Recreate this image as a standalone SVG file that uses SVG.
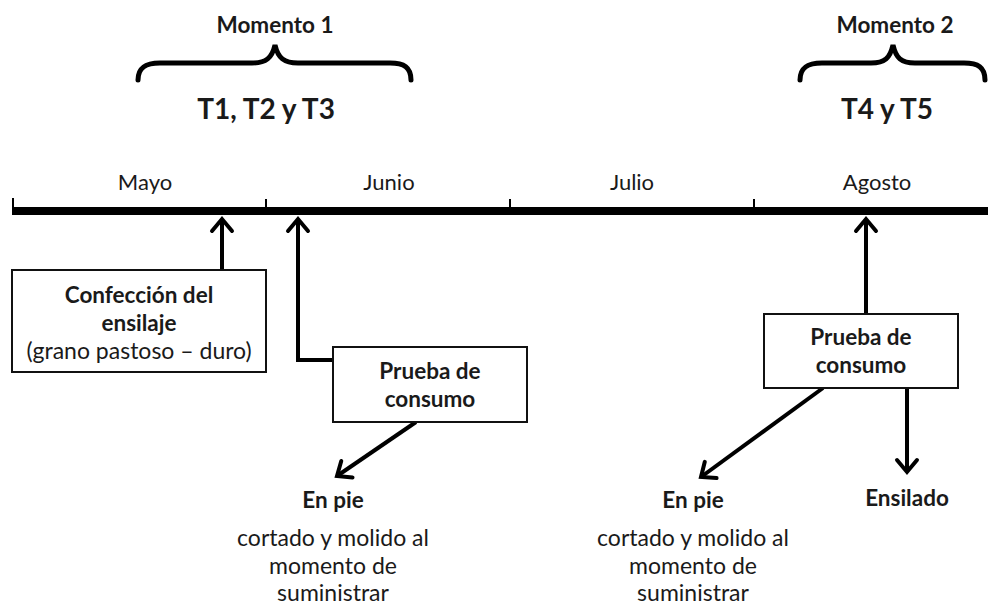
<svg xmlns="http://www.w3.org/2000/svg" width="988" height="605" viewBox="0 0 988 605">
<style>
text{font-family:Lato,"Open Sans",sans-serif;fill:#1a1a1a;text-anchor:middle}
.r{font-size:23px}
.m{font-size:22px}
.bl{font-size:22.5px;font-weight:bold}
.t{font-size:28px;font-weight:bold}
.box{fill:#fff;stroke:#111;stroke-width:2}
.c{fill:none;stroke:#000;stroke-width:4}
.brace{fill:none;stroke:#000;stroke-width:5;stroke-linecap:round}
</style>
<defs>
<marker id="ah" markerUnits="userSpaceOnUse" markerWidth="30" markerHeight="30" viewBox="-15 -15 30 30" refX="0" refY="0" orient="auto">
<path d="M-12,-10 L0,0 L-12,10" fill="none" stroke="#000" stroke-width="4" stroke-linecap="round" stroke-linejoin="miter"/>
</marker>
</defs>
<g id="timeline">
<line x1="12" y1="211" x2="988" y2="211" stroke="#000" stroke-width="8"/>
<g stroke="#000" stroke-width="2">
<line x1="13" y1="198" x2="13" y2="211"/>
<line x1="266" y1="199" x2="266" y2="211"/>
<line x1="510" y1="199" x2="510" y2="211"/>
<line x1="754" y1="199" x2="754" y2="211"/>
</g>
<text class="m" x="145" y="190">Mayo</text>
<text class="m" x="389" y="190">Junio</text>
<text class="m" x="632" y="190">Julio</text>
<text class="m" x="877" y="190">Agosto</text>
</g>
<g id="momento1">
<text class="bl" x="275" y="33">Momento 1</text>
<path class="brace" d="M138,80 C138,67 146,63 160,63 L252,63 C266,63 272,58 275,45 C278,58 284,63 298,63 L390,63 C404,63 411,67 411,80"/>
<text class="t" x="266" y="119">T1, T2 y T3</text>
</g>
<g id="momento2">
<text class="bl" x="895" y="33">Momento 2</text>
<path class="brace" d="M800,80 C800,67 808,63 822,63 L871,63 C885,63 890,58 893,45 C896,58 901,63 915,63 L964,63 C978,63 985,67 985,80"/>
<text class="t" x="887" y="119">T4 y T5</text>
</g>
<g id="connectors">
<line class="c" x1="222" y1="270" x2="222" y2="219" marker-end="url(#ah)"/>
<polyline class="c" points="333,360 298,360 298,219" marker-end="url(#ah)"/>
<line class="c" x1="416" y1="422" x2="337" y2="476" marker-end="url(#ah)"/>
<line class="c" x1="866" y1="314" x2="866" y2="219" marker-end="url(#ah)"/>
<line class="c" x1="823" y1="388" x2="701" y2="477" marker-end="url(#ah)"/>
<line class="c" x1="907" y1="388" x2="907" y2="472" marker-end="url(#ah)"/>
</g>
<g id="confeccion">
<rect class="box" x="12" y="270" width="254" height="102"/>
<text class="bl" x="139" y="303">Confección del</text>
<text class="bl" x="139" y="331">ensilaje</text>
<text class="r" x="139" y="359">(grano pastoso – duro)</text>
</g>
<g id="prueba1">
<rect class="box" x="333" y="347" width="194" height="75"/>
<text class="bl" x="430" y="379">Prueba de</text>
<text class="bl" x="430" y="407">consumo</text>
</g>
<g id="enpie1">
<text class="bl" x="333" y="508">En pie</text>
<text class="r" x="333" y="546">cortado y molido al</text>
<text class="r" x="333" y="574">momento de</text>
<text class="r" x="333" y="601">suministrar</text>
</g>
<g id="prueba2">
<rect class="box" x="764" y="314" width="194" height="74"/>
<text class="bl" x="861" y="345">Prueba de</text>
<text class="bl" x="861" y="373">consumo</text>
</g>
<g id="enpie2">
<text class="bl" x="693" y="508">En pie</text>
<text class="r" x="693" y="546">cortado y molido al</text>
<text class="r" x="693" y="574">momento de</text>
<text class="r" x="693" y="601">suministrar</text>
</g>
<g id="ensilado">
<text class="bl" x="907" y="506">Ensilado</text>
</g>
</svg>
